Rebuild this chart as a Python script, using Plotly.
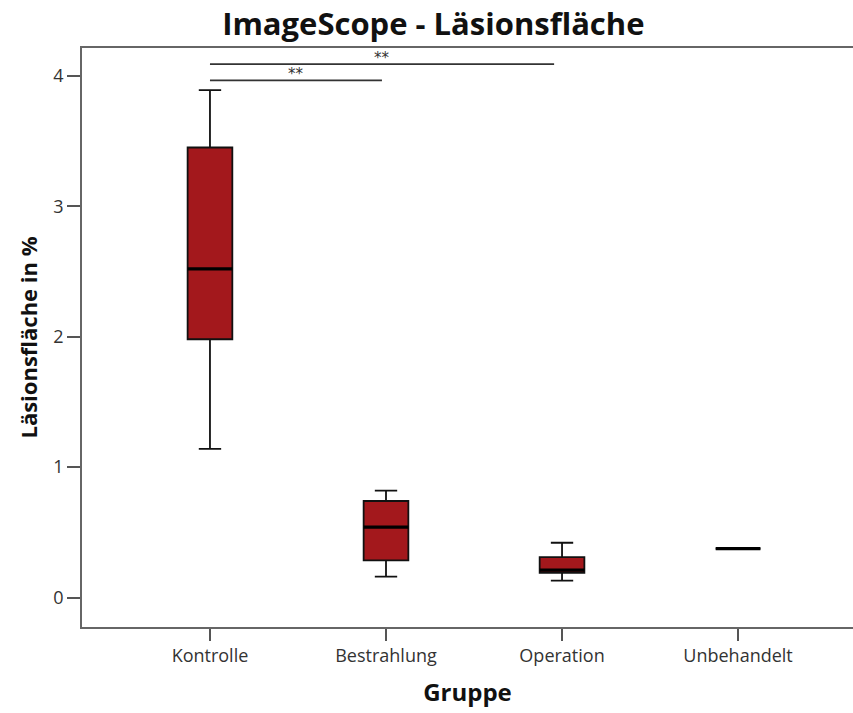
import plotly.graph_objects as go

# ---- data ----
categories = ["Kontrolle", "Bestrahlung", "Operation", "Unbehandelt"]
q1 = [1.98, 0.285, 0.19, 0.375]
median = [2.52, 0.54, 0.21, 0.375]
q3 = [3.45, 0.74, 0.31, 0.375]
lower_whisker = [1.14, 0.16, 0.13, 0.375]
upper_whisker = [3.89, 0.82, 0.42, 0.375]

sig_x_start = [0.0, 0.0]
sig_x_end = [0.977, 1.955]
sig_y = [3.965, 4.09]
sig_label = ["**", "**"]

y_ticks = [0, 1, 2, 3, 4]

BOX_W = 0.254
FILL = "#A3181C"

positions = list(range(len(categories)))

fig = go.Figure()

fig.add_trace(go.Box(
    x=positions,
    q1=q1, median=median, q3=q3,
    lowerfence=lower_whisker, upperfence=upper_whisker,
    width=BOX_W, whiskerwidth=0.5,
    fillcolor=FILL,
    line=dict(color="#111111", width=1.8),
    boxpoints=False,
    hoverinfo="skip",
    showlegend=False,
))

# thick median lines
for i, m in zip(positions, median):
    fig.add_trace(go.Scatter(
        x=[i - BOX_W / 2, i + BOX_W / 2], y=[m, m],
        mode="lines", line=dict(color="#000000", width=3.4),
        showlegend=False, hoverinfo="skip",
    ))

# significance bars
for xs, xe, yv, lab in zip(sig_x_start, sig_x_end, sig_y, sig_label):
    fig.add_trace(go.Scatter(
        x=[xs, xe], y=[yv, yv], mode="lines",
        line=dict(color="#333333", width=1.8),
        showlegend=False, hoverinfo="skip",
    ))
    fig.add_annotation(
        x=(xs + xe) / 2, y=yv, text=lab, showarrow=False,
        yanchor="bottom", yshift=-5,
        font=dict(family="DejaVu Sans", size=15, color="#333333"),
    )

fig.update_layout(
    width=853, height=713,
    margin=dict(l=82, r=0, t=48, b=86),
    paper_bgcolor="white", plot_bgcolor="white",
    title=dict(
        text="<b>ImageScope - Läsionsfläche</b>",
        x=0.508, xanchor="center", y=0.966, yanchor="middle",
        font=dict(family="Open Sans", size=31, color="#111111"),
    ),
    showlegend=False,
)

fig.update_xaxes(
    range=[-0.727, 3.653],
    tickmode="array", tickvals=positions, ticktext=categories,
    showgrid=False, zeroline=False,
    showline=True, linecolor="#666666", linewidth=1.6, mirror=True,
    ticks="outside", ticklen=12, tickcolor="#555555", tickwidth=1.6,
    tickfont=dict(family="Open Sans", size=18, color="#333333"),
    title=dict(text="<b>Gruppe</b>", standoff=18,
               font=dict(family="Open Sans", size=24, color="#111111")),
)

fig.update_yaxes(
    range=[-0.226, 4.213],
    tickmode="array", tickvals=y_ticks,
    showgrid=False, zeroline=False,
    showline=True, linecolor="#666666", linewidth=1.6,
    ticks="outside", ticklen=13, tickcolor="#555555", tickwidth=1.6,
    tickfont=dict(family="Open Sans", size=18, color="#333333"),
    title=dict(text="<b>Läsionsfläche in %</b>", standoff=10,
               font=dict(family="Open Sans", size=22, color="#111111")),
)

fig.write_html("out.html")
